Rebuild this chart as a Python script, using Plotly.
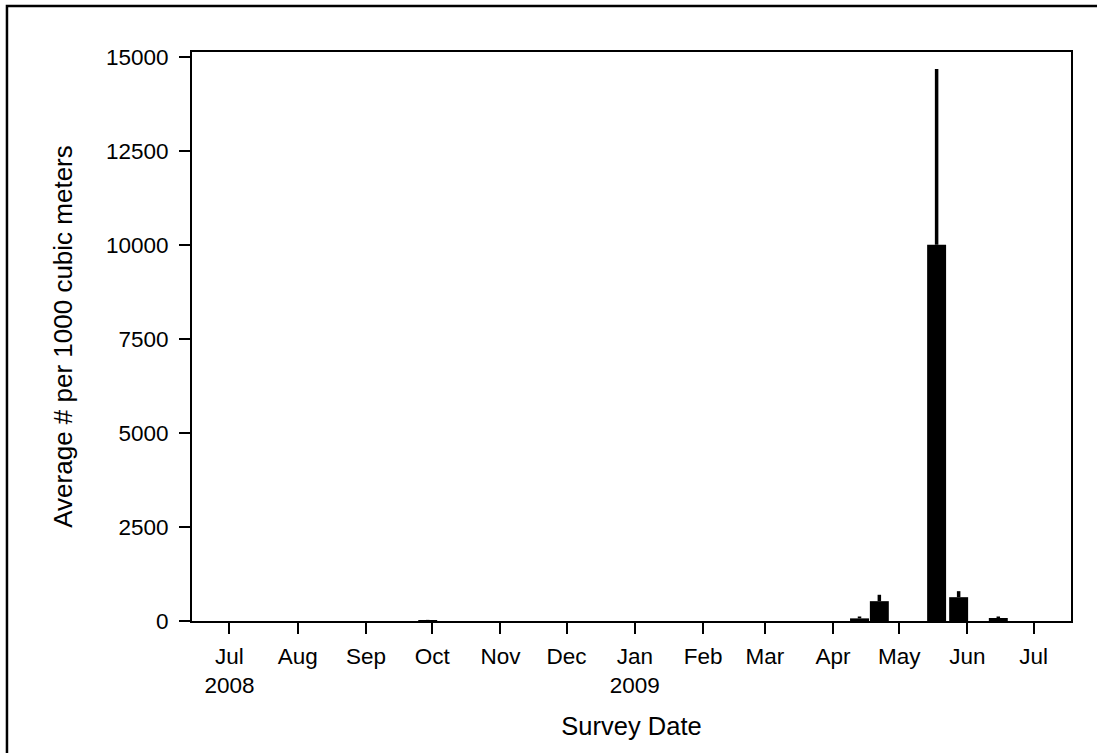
import plotly.graph_objects as go

# survey data
survey_dates = ["2008-09-29", "2009-04-13", "2009-04-22", "2009-05-18", "2009-05-28", "2009-06-15"]
avg_counts = [10, 70, 527, 10000, 633, 80]
err_upper = [20, 50, 170, 4670, 160, 40]

y_ticks = [0, 2500, 5000, 7500, 10000, 12500, 15000]
x_tickvals = ["2008-07-01", "2008-08-01", "2008-09-01", "2008-10-01", "2008-11-01", "2008-12-01",
              "2009-01-01", "2009-02-01", "2009-03-01", "2009-04-01", "2009-05-01", "2009-06-01",
              "2009-07-01"]
x_ticktext = ["Jul<br>2008", "Aug", "Sep", "Oct", "Nov", "Dec", "Jan<br>2009", "Feb", "Mar",
              "Apr", "May", "Jun", "Jul"]

DAY_MS = 86400000
FONT = "Liberation Sans, Arial, sans-serif"

fig = go.Figure()

fig.add_trace(go.Bar(
    x=survey_dates,
    y=avg_counts,
    width=[8.6 * DAY_MS] * len(survey_dates),
    marker=dict(color="black", line=dict(color="black", width=0)),
    error_y=dict(type="data", symmetric=False, array=err_upper,
                 arrayminus=[0] * len(err_upper),
                 color="black", thickness=3.5, width=0),
    showlegend=False,
))

axis_common = dict(
    showline=True, linecolor="black", linewidth=2, mirror=True,
    ticks="outside", ticklen=11, tickwidth=2, tickcolor="black",
    showgrid=False, zeroline=False,
    tickfont=dict(family=FONT, size=22.5, color="black"),
)

fig.update_layout(
    width=1097, height=753,
    margin=dict(l=192, r=26, t=52, b=132),
    paper_bgcolor="white", plot_bgcolor="white",
    font=dict(family=FONT, color="black"),
    xaxis=dict(
        axis_common,
        type="date",
        range=["2008-06-14", "2009-07-18"],
        tickvals=x_tickvals, ticktext=x_ticktext,
        ticklabelstandoff=3,
        title=dict(text="Survey Date", font=dict(family=FONT, size=25.5), standoff=20),
    ),
    yaxis=dict(
        axis_common,
        range=[0, 15125],
        tickvals=y_ticks, ticktext=[str(v) for v in y_ticks],
        ticklabelstandoff=6,
        title=dict(text="Average # per 1000 cubic meters", font=dict(family=FONT, size=26), standoff=26),
    ),
    shapes=[dict(type="rect", xref="paper", yref="paper",
                 x0=-0.2105, x1=1.035, y0=-0.25, y1=1.081,
                 line=dict(color="black", width=2.5), fillcolor="rgba(0,0,0,0)", layer="below")],
)

# page body margin would shift the whole chart by 8px
fig.write_html("out.html", config={"displayModeBar": False},
               post_script="document.body.style.margin = '0';")
